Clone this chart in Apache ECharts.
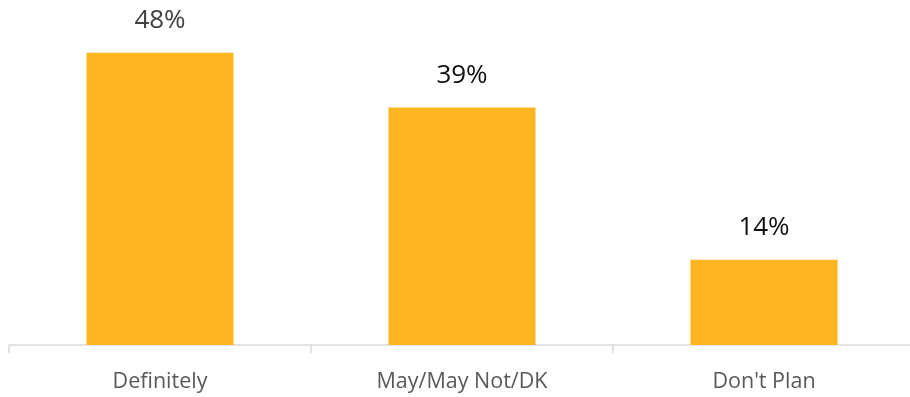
<!DOCTYPE html>
<html>
<head>
<meta charset="utf-8">
<style>
  html, body { margin: 0; padding: 0; background: #ffffff; }
  #chart { width: 910px; height: 397px; }
</style>
<script src="https://cdn.jsdelivr.net/npm/echarts@6/dist/echarts.min.js"></script>
</head>
<body>
<div id="chart"></div>
<script>
// Survey response shares (%)
const categories = ['Definitely', 'May/May Not/DK', "Don't Plan"];
const shares = [48, 39, 14];
const labelColors = ['#404040', '#111111', '#111111'];

const chart = echarts.init(document.getElementById('chart'), null, { renderer: 'canvas' });

chart.setOption({
  animation: false,
  backgroundColor: '#ffffff',
  grid: {
    left: 9, width: 906, top: 40.5, height: 304.5,
    containLabel: false,
    outerBoundsMode: 'none'
  },
  xAxis: {
    type: 'category',
    data: categories,
    boundaryGap: true,
    axisLine: { show: true, lineStyle: { color: '#d9d9d9', width: 1.5 } },
    axisTick: { show: true, length: 8, lineStyle: { color: '#d9d9d9', width: 1.5 } },
    axisLabel: {
      margin: 26,
      fontFamily: '"Open Sans", sans-serif',
      fontSize: 21.5,
      color: '#595959'
    }
  },
  yAxis: {
    type: 'value',
    min: 0,
    max: 50,
    show: false,
    splitLine: { show: false }
  },
  series: [{
    type: 'bar',
    data: shares.map((v, i) => ({
      value: v,
      label: { color: labelColors[i] }
    })),
    barWidth: '48.7%',
    itemStyle: { color: '#FDB521' },
    label: {
      show: true,
      position: 'top',
      distance: 19,
      fontFamily: '"Open Sans", sans-serif',
      fontSize: 26,
      formatter: p => p.value + '%'
    }
  }]
});
</script>
</body>
</html>
